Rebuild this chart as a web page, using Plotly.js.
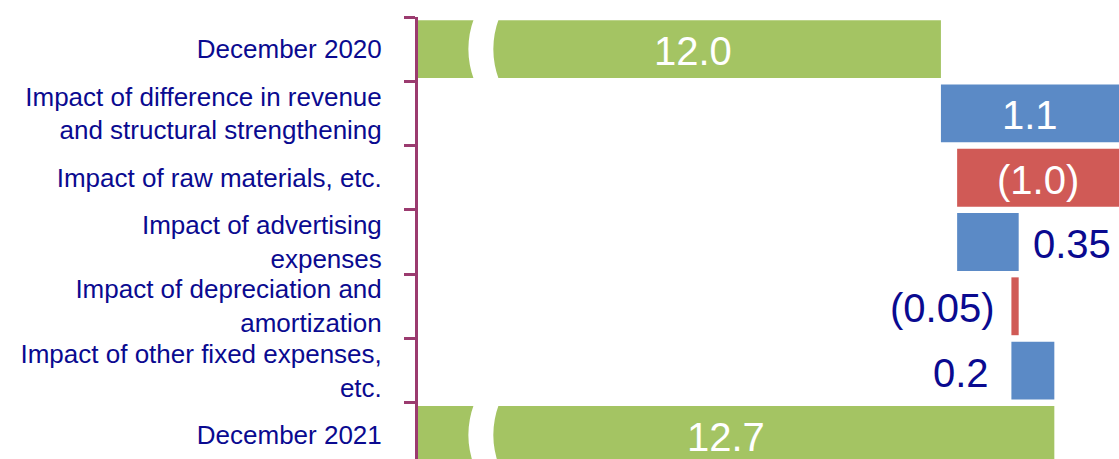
<!DOCTYPE html>
<html>
<head>
<meta charset="utf-8">
<script src="https://cdn.plot.ly/plotly-3.0.1.min.js"></script>
<style>
html,body{margin:0;padding:0;overflow:hidden;background:#fff;}
#chart{width:1135px;height:470px;}
</style>
</head>
<body>
<div id="chart"></div>
<script>
// ---- data ----
const categories = [
  "December 2020",
  "Impact of difference in revenue<br>and structural strengthening",
  "Impact of raw materials, etc.",
  "Impact of advertising<br>expenses",
  "Impact of depreciation and<br>amortization",
  "Impact of other fixed expenses,<br>etc.",
  "December 2021"
];
const values = [12.0, 1.1, -1.0, 0.38, -0.045, 0.265, 12.7];
const measures = ["absolute", "relative", "relative", "relative", "relative", "relative", "total"];
const valueLabels = ["12.0", "1.1", "(1.0)", "0.35", "(0.05)", "0.2", "12.7"];

// ---- style ----
const labelPlacement = ["inside", "inside", "inside", "right", "left", "left", "inside"];
const labelShift = [14, 0, 0, 12, -14, -20, -10];
const GREEN = "#A4C463", BLUE = "#5B8AC6", RED = "#D05A56";
const NAVY = "#0A0A90", AXIS = "#9B3B6F";
const XRANGE = [8.772, 13.198];
const FONT = "Liberation Sans, Arial, sans-serif";

// cumulative start/end of each bar
const starts = [], ends = [];
let run = 0;
values.forEach((v, i) => {
  if (measures[i] === "absolute") { starts.push(0); run = v; ends.push(v); }
  else if (measures[i] === "total") { starts.push(0); ends.push(run); }
  else { starts.push(run); run += v; ends.push(run); }
});

const trace = {
  type: "waterfall",
  orientation: "h",
  y: categories,
  x: values,
  measure: measures,
  textinfo: "none",
  hoverinfo: "none",
  connector: {visible: false},
  increasing: {marker: {color: BLUE}},
  decreasing: {marker: {color: RED}},
  totals: {marker: {color: GREEN}},
  cliponaxis: true
};

const annotations = [];
categories.forEach((c, i) => {
  const p = labelPlacement[i];
  let x, anchor, color;
  if (p === "inside") {
    const a = Math.max(Math.min(starts[i], ends[i]), XRANGE[0]);
    const b = Math.min(Math.max(starts[i], ends[i]), XRANGE[1]);
    x = (a + b) / 2; anchor = "center"; color = "#ffffff";
  } else if (p === "right") {
    x = Math.max(starts[i], ends[i]); anchor = "left"; color = NAVY;
  } else {
    x = Math.min(starts[i], ends[i]); anchor = "right"; color = NAVY;
  }
  annotations.push({
    x: x, y: i, xref: "x", yref: "y",
    text: valueLabels[i], showarrow: false,
    xanchor: anchor, yanchor: "middle",
    xshift: labelShift[i], yshift: -2,
    font: {family: FONT, size: 40, color: color}
  });
});

// axis-break marks on the total bars
const shapes = [];
const bx = 9.118, bw = 0.154, bulge = 0.07;
categories.forEach((c, i) => {
  if (measures[i] === "relative") return;
  const t = i - 0.48, m = i, btm = i + 0.48;
  const path = `M ${bx},${t} Q ${bx - bulge},${m} ${bx},${btm} L ${bx + bw},${btm} Q ${bx + bw - bulge},${m} ${bx + bw},${t} Z`;
  shapes.push({type: "path", xref: "x", yref: "y", path: path,
    fillcolor: "#ffffff", line: {width: 0}, layer: "above"});
});

const layout = {
  width: 1135, height: 470,
  margin: {l: 418, r: 0, t: 17, b: 3, pad: 0},
  paper_bgcolor: "#ffffff", plot_bgcolor: "#ffffff",
  showlegend: false,
  waterfallgap: 0.1,
  font: {family: FONT, color: NAVY},
  xaxis: {range: XRANGE, visible: false, showgrid: false, zeroline: false, fixedrange: true},
  yaxis: {
    type: "category", autorange: "reversed",
    showline: true, linecolor: AXIS, linewidth: 3,
    ticks: "outside", tickson: "boundaries", ticklen: 11, tickwidth: 3, tickcolor: AXIS,
    showgrid: false, zeroline: false,
    tickfont: {family: FONT, size: 26, color: NAVY},
    ticklabelstandoff: 28,
    fixedrange: true
  },
  annotations: annotations,
  shapes: shapes
};

Plotly.newPlot("chart", [trace], layout, {displayModeBar: false, staticPlot: true});
</script>
</body>
</html>
